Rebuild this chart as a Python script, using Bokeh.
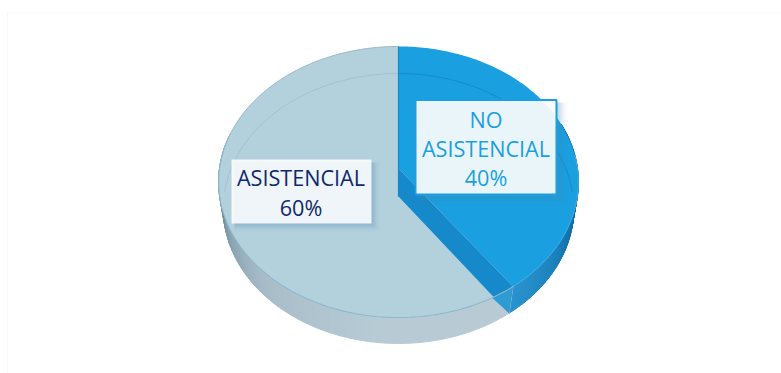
import numpy as np
from bokeh.core.properties import value
from bokeh.embed import file_html
from bokeh.models import Range1d
from bokeh.plotting import figure
from bokeh.resources import INLINE

# Chart content
categories = ["NO ASISTENCIAL", "ASISTENCIAL"]
shares = [40, 60]
label_lines = [["NO", "ASISTENCIAL", "40%"], ["ASISTENCIAL", "60%"]]

WIDTH, HEIGHT = 781, 373
FONT = value("Open Sans")

p = figure(width=WIDTH, height=HEIGHT, output_backend="svg", toolbar_location=None,
           x_range=Range1d(0, WIDTH), y_range=Range1d(HEIGHT, 0), min_border=0,
           background_fill_color="#ffffff", border_fill_color="#ffffff")
p.axis.visible = False
p.grid.visible = False
p.outline_line_color = None

# Faint card edge behind the chart
p.quad(left=[7], right=[800], top=[12], bottom=[400],
       fill_color="#ffffff", line_color="#f8f8f8", line_width=1)


def project(theta_deg, cy, radius, scale, k):
    """Perspective view of a disc; theta runs clockwise from twelve o'clock."""
    t = np.radians(np.asarray(theta_deg, dtype=float))
    u, v = np.sin(t), np.cos(t)
    d = 1 + k * v
    return 398 + radius * u / d, cy - scale * v / d


def top_face(theta):
    return project(theta, 168, 179, 134.2, 0.0996)


def base_face(theta):
    return project(theta, 196, 174.5, 133.9, 0.0889)


def hex_mix(theta, stops):
    angles = [s[0] for s in stops]
    rgb = [tuple(int(s[1][i:i + 2], 16) for i in (1, 3, 5)) for s in stops]
    return "#%02x%02x%02x" % tuple(int(np.interp(theta, angles, [c[n] for c in rgb])) for n in range(3))


split = 360 * shares[0] / sum(shares)

# Outer wall, built from short quads so that its shade can vary around the rim
blue_wall = [(70, "#0a4f7c"), (100, "#0f6597"), (122, "#1a80bb"), (split, "#2a93cf")]
pale_wall = [(split, "#b9cbd4"), (185, "#b8ccd6"), (225, "#a8bdc9"), (250, "#86a0af"), (272, "#5f7b8c")]


def wall(a, b, stops):
    edges = np.linspace(a, b, 90)
    xs, ys, colors = [], [], []
    for t0, t1 in zip(edges[:-1], edges[1:]):
        x0, y0 = top_face([t0, t1])
        x1, y1 = base_face([t1, t0])
        xs.append(list(x0) + list(x1))
        ys.append(list(y0) + list(y1))
        colors.append(hex_mix((t0 + t1) / 2, stops))
    p.patches(xs, ys, fill_color=colors, line_color=colors, line_width=1)


wall(70, split, blue_wall)
wall(split, 285, pale_wall)

# Top faces of the two slices
th = np.linspace(split, 360, 200)
x, y = top_face(th)
p.patch(list(x) + [398], list(y) + [168], fill_color="#b3d0dd", line_color=None)
th = np.linspace(0, split, 150)
x, y = top_face(th)
p.patch(list(x) + [398], list(y) + [168], fill_color="#1a9fe0", line_color=None)

# Cut face of the blue slice, seen through the pale rim near the corner
cx_t, cy_t = top_face([split])
cx_b, cy_b = base_face([split])
p.patch([398, cx_t[0], cx_b[0], 398], [168, cy_t[0], cy_b[0], 196],
        fill_color="#1589c9", line_color=None)
th = np.linspace(split, split + 7.5, 12)
x, y = top_face(th)
p.patch(list(x) + [cx_b[0]], list(y) + [cy_b[0]], fill_color="#2f9bd3", line_color=None)

# Rim and far edge of the disc
x, y = base_face(np.linspace(-88, 0, 100))
p.line(x, y, line_color="#0a4468", line_alpha=0.09, line_width=1)
x, y = base_face(np.linspace(0, 88, 100))
p.line(x, y, line_color="#0a4468", line_alpha=0.2, line_width=1)
x, y = top_face(np.linspace(split, 282, 160))
p.line(x, y, line_color="#8cb8cf", line_width=1.1)
x, y = top_face(np.linspace(84, split, 80))
p.line(x, y, line_color="#45b0e6", line_width=1)
x, y = top_face(np.linspace(282, 360, 100))
p.line(x, y, line_color="#9db5c3", line_width=1)
p.line([398, 398], [46, 196], line_color="#168ac8", line_width=1.2)


def shadow(left, right, top, bottom, reach):
    for grow, alpha in zip(reach, [0.04, 0.06, 0.08, 0.1, 0.12]):
        p.quad(left=[left + 3], right=[right + grow], top=[top + 3], bottom=[bottom + grow],
               fill_color="#4f8fb0", fill_alpha=alpha, line_color=None)


# Callouts
shadow(231, 371, 159, 223, [8, 6, 4, 3, 1])
p.quad(left=[231], right=[371], top=[159], bottom=[223],
       fill_color="#ffffff", fill_alpha=0.86, line_color=None)
shadow(414, 557, 99, 195, [10, 7, 5, 3, 1])
p.quad(left=[415], right=[556], top=[99.5], bottom=[194],
       fill_color="#ffffff", fill_alpha=0.9, line_color="#1a9fe0", line_width=2)

p.text(x=[300.5] * len(label_lines[1]), y=[176.5, 206.5], text=label_lines[1],
       text_font=FONT, text_font_size="21.6px", text_color="#0f2a6c",
       text_align="center", text_baseline="middle")
p.text(x=[485.5] * len(label_lines[0]), y=[118.5, 147.5, 176.5], text=label_lines[0],
       text_font=FONT, text_font_size="21.6px", text_color="#1a9fe0",
       text_align="center", text_baseline="middle")

open("out.html", "w").write(file_html(p, INLINE))
